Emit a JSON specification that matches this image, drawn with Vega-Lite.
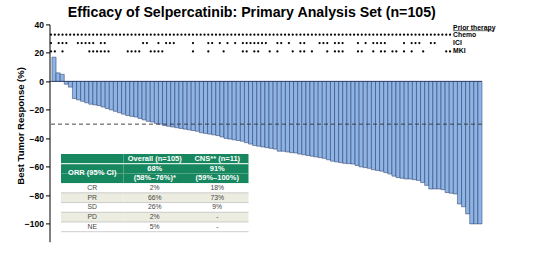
{
  "$schema": "https://vega.github.io/schema/vega-lite/v6.json",
  "width": 432.5,
  "height": 217.3,
  "autosize": {"type": "none"},
  "padding": {"left": 49.5, "top": 24.4, "right": 74, "bottom": 15.3},
  "background": "white",
  "config": {"font": "Liberation Sans", "view": {"stroke": null}},
  "title": {"text": "Efficacy of Selpercatinib: Primary Analysis Set (n=105)", "fontSize": 14.2, "fontWeight": "bold", "color": "#000", "anchor": "middle", "offset": 0, "dx": -14},
  "datasets": {
    "bars": [
      {"patient":1,"response":17},{"patient":2,"response":6},{"patient":3,"response":5},{"patient":4,"response":-2},{"patient":5,"response":-4},
      {"patient":6,"response":-12},{"patient":7,"response":-13},{"patient":8,"response":-14},{"patient":9,"response":-15},{"patient":10,"response":-16},
      {"patient":11,"response":-16.5},{"patient":12,"response":-17},{"patient":13,"response":-18},{"patient":14,"response":-19},{"patient":15,"response":-20},
      {"patient":16,"response":-21},{"patient":17,"response":-22},{"patient":18,"response":-23},{"patient":19,"response":-24},{"patient":20,"response":-24.5},
      {"patient":21,"response":-25},{"patient":22,"response":-26},{"patient":23,"response":-27},{"patient":24,"response":-28},{"patient":25,"response":-28.5},
      {"patient":26,"response":-29.5},{"patient":27,"response":-30},{"patient":28,"response":-31},{"patient":29,"response":-31.5},{"patient":30,"response":-32},
      {"patient":31,"response":-32.5},{"patient":32,"response":-33},{"patient":33,"response":-33.5},{"patient":34,"response":-34},{"patient":35,"response":-34.5},
      {"patient":36,"response":-35},{"patient":37,"response":-36},{"patient":38,"response":-36.5},{"patient":39,"response":-37},{"patient":40,"response":-37.5},
      {"patient":41,"response":-38},{"patient":42,"response":-39},{"patient":43,"response":-40},{"patient":44,"response":-40.5},{"patient":45,"response":-41},
      {"patient":46,"response":-41.5},{"patient":47,"response":-42},{"patient":48,"response":-43},{"patient":49,"response":-44},{"patient":50,"response":-45},
      {"patient":51,"response":-45.5},{"patient":52,"response":-46},{"patient":53,"response":-46.5},{"patient":54,"response":-47},{"patient":55,"response":-47.5},
      {"patient":56,"response":-49},{"patient":57,"response":-49},{"patient":58,"response":-49.5},{"patient":59,"response":-50},{"patient":60,"response":-50.2},
      {"patient":61,"response":-51},{"patient":62,"response":-51.5},{"patient":63,"response":-52},{"patient":64,"response":-52.5},{"patient":65,"response":-53},
      {"patient":66,"response":-53.5},{"patient":67,"response":-54},{"patient":68,"response":-55},{"patient":69,"response":-56},{"patient":70,"response":-56.5},
      {"patient":71,"response":-57},{"patient":72,"response":-57.5},{"patient":73,"response":-57.7},{"patient":74,"response":-58},{"patient":75,"response":-59},
      {"patient":76,"response":-60},{"patient":77,"response":-60.5},{"patient":78,"response":-61},{"patient":79,"response":-62},{"patient":80,"response":-62.5},
      {"patient":81,"response":-63},{"patient":82,"response":-64},{"patient":83,"response":-65},{"patient":84,"response":-66.5},{"patient":85,"response":-67.5},
      {"patient":86,"response":-68},{"patient":87,"response":-68.5},{"patient":88,"response":-68.5},{"patient":89,"response":-69},{"patient":90,"response":-69.5},
      {"patient":91,"response":-71},{"patient":92,"response":-73},{"patient":93,"response":-75.5},{"patient":94,"response":-75.5},{"patient":95,"response":-75.5},
      {"patient":96,"response":-76},{"patient":97,"response":-78},{"patient":98,"response":-78.5},{"patient":99,"response":-79},{"patient":100,"response":-86},
      {"patient":101,"response":-88},{"patient":102,"response":-93},{"patient":103,"response":-100},{"patient":104,"response":-100},{"patient":105,"response":-100}
    ],
    "prior": [
      {"patient":1,"therapy":"Chemo"},{"patient":2,"therapy":"Chemo"},{"patient":3,"therapy":"Chemo"},{"patient":4,"therapy":"Chemo"},{"patient":5,"therapy":"Chemo"},
      {"patient":6,"therapy":"Chemo"},{"patient":7,"therapy":"Chemo"},{"patient":8,"therapy":"Chemo"},{"patient":9,"therapy":"Chemo"},{"patient":10,"therapy":"Chemo"},
      {"patient":11,"therapy":"Chemo"},{"patient":12,"therapy":"Chemo"},{"patient":13,"therapy":"Chemo"},{"patient":14,"therapy":"Chemo"},{"patient":15,"therapy":"Chemo"},
      {"patient":16,"therapy":"Chemo"},{"patient":17,"therapy":"Chemo"},{"patient":18,"therapy":"Chemo"},{"patient":19,"therapy":"Chemo"},{"patient":20,"therapy":"Chemo"},
      {"patient":21,"therapy":"Chemo"},{"patient":22,"therapy":"Chemo"},{"patient":23,"therapy":"Chemo"},{"patient":24,"therapy":"Chemo"},{"patient":25,"therapy":"Chemo"},
      {"patient":26,"therapy":"Chemo"},{"patient":27,"therapy":"Chemo"},{"patient":28,"therapy":"Chemo"},{"patient":29,"therapy":"Chemo"},{"patient":30,"therapy":"Chemo"},
      {"patient":31,"therapy":"Chemo"},{"patient":32,"therapy":"Chemo"},{"patient":33,"therapy":"Chemo"},{"patient":34,"therapy":"Chemo"},{"patient":35,"therapy":"Chemo"},
      {"patient":36,"therapy":"Chemo"},{"patient":37,"therapy":"Chemo"},{"patient":38,"therapy":"Chemo"},{"patient":39,"therapy":"Chemo"},{"patient":40,"therapy":"Chemo"},
      {"patient":41,"therapy":"Chemo"},{"patient":42,"therapy":"Chemo"},{"patient":43,"therapy":"Chemo"},{"patient":44,"therapy":"Chemo"},{"patient":45,"therapy":"Chemo"},
      {"patient":46,"therapy":"Chemo"},{"patient":47,"therapy":"Chemo"},{"patient":48,"therapy":"Chemo"},{"patient":49,"therapy":"Chemo"},{"patient":50,"therapy":"Chemo"},
      {"patient":51,"therapy":"Chemo"},{"patient":52,"therapy":"Chemo"},{"patient":53,"therapy":"Chemo"},{"patient":54,"therapy":"Chemo"},{"patient":55,"therapy":"Chemo"},
      {"patient":56,"therapy":"Chemo"},{"patient":57,"therapy":"Chemo"},{"patient":58,"therapy":"Chemo"},{"patient":59,"therapy":"Chemo"},{"patient":60,"therapy":"Chemo"},
      {"patient":61,"therapy":"Chemo"},{"patient":62,"therapy":"Chemo"},{"patient":63,"therapy":"Chemo"},{"patient":64,"therapy":"Chemo"},{"patient":65,"therapy":"Chemo"},
      {"patient":66,"therapy":"Chemo"},{"patient":67,"therapy":"Chemo"},{"patient":68,"therapy":"Chemo"},{"patient":69,"therapy":"Chemo"},{"patient":70,"therapy":"Chemo"},
      {"patient":71,"therapy":"Chemo"},{"patient":72,"therapy":"Chemo"},{"patient":73,"therapy":"Chemo"},{"patient":74,"therapy":"Chemo"},{"patient":75,"therapy":"Chemo"},
      {"patient":76,"therapy":"Chemo"},{"patient":77,"therapy":"Chemo"},{"patient":78,"therapy":"Chemo"},{"patient":79,"therapy":"Chemo"},{"patient":80,"therapy":"Chemo"},
      {"patient":81,"therapy":"Chemo"},{"patient":82,"therapy":"Chemo"},{"patient":83,"therapy":"Chemo"},{"patient":84,"therapy":"Chemo"},{"patient":85,"therapy":"Chemo"},
      {"patient":86,"therapy":"Chemo"},{"patient":87,"therapy":"Chemo"},{"patient":88,"therapy":"Chemo"},{"patient":89,"therapy":"Chemo"},{"patient":90,"therapy":"Chemo"},
      {"patient":91,"therapy":"Chemo"},{"patient":92,"therapy":"Chemo"},{"patient":93,"therapy":"Chemo"},{"patient":94,"therapy":"Chemo"},{"patient":95,"therapy":"Chemo"},
      {"patient":96,"therapy":"Chemo"},{"patient":97,"therapy":"Chemo"},{"patient":98,"therapy":"Chemo"},{"patient":99,"therapy":"Chemo"},{"patient":100,"therapy":"Chemo"},
      {"patient":101,"therapy":"Chemo"},{"patient":102,"therapy":"Chemo"},{"patient":103,"therapy":"Chemo"},{"patient":104,"therapy":"Chemo"},{"patient":105,"therapy":"Chemo"},
      {"patient":1,"therapy":"ICI"},{"patient":3,"therapy":"ICI"},{"patient":4,"therapy":"ICI"},{"patient":5,"therapy":"ICI"},{"patient":8,"therapy":"ICI"},
      {"patient":9,"therapy":"ICI"},{"patient":10,"therapy":"ICI"},{"patient":11,"therapy":"ICI"},{"patient":12,"therapy":"ICI"},{"patient":14,"therapy":"ICI"},
      {"patient":15,"therapy":"ICI"},{"patient":25,"therapy":"ICI"},{"patient":26,"therapy":"ICI"},{"patient":29,"therapy":"ICI"},{"patient":31,"therapy":"ICI"},
      {"patient":32,"therapy":"ICI"},{"patient":33,"therapy":"ICI"},{"patient":38,"therapy":"ICI"},{"patient":42,"therapy":"ICI"},{"patient":43,"therapy":"ICI"},
      {"patient":45,"therapy":"ICI"},{"patient":47,"therapy":"ICI"},{"patient":49,"therapy":"ICI"},{"patient":51,"therapy":"ICI"},{"patient":52,"therapy":"ICI"},
      {"patient":53,"therapy":"ICI"},{"patient":54,"therapy":"ICI"},{"patient":55,"therapy":"ICI"},{"patient":56,"therapy":"ICI"},{"patient":57,"therapy":"ICI"},
      {"patient":60,"therapy":"ICI"},{"patient":61,"therapy":"ICI"},{"patient":63,"therapy":"ICI"},{"patient":66,"therapy":"ICI"},{"patient":67,"therapy":"ICI"},
      {"patient":71,"therapy":"ICI"},{"patient":72,"therapy":"ICI"},{"patient":73,"therapy":"ICI"},{"patient":75,"therapy":"ICI"},{"patient":76,"therapy":"ICI"},
      {"patient":77,"therapy":"ICI"},{"patient":81,"therapy":"ICI"},{"patient":83,"therapy":"ICI"},{"patient":85,"therapy":"ICI"},{"patient":86,"therapy":"ICI"},
      {"patient":87,"therapy":"ICI"},{"patient":88,"therapy":"ICI"},{"patient":93,"therapy":"ICI"},{"patient":95,"therapy":"ICI"},{"patient":96,"therapy":"ICI"},
      {"patient":97,"therapy":"ICI"},{"patient":100,"therapy":"ICI"},{"patient":101,"therapy":"ICI"},
      {"patient":1,"therapy":"MKI"},{"patient":2,"therapy":"MKI"},{"patient":4,"therapy":"MKI"},{"patient":11,"therapy":"MKI"},{"patient":12,"therapy":"MKI"},
      {"patient":13,"therapy":"MKI"},{"patient":14,"therapy":"MKI"},{"patient":15,"therapy":"MKI"},{"patient":16,"therapy":"MKI"},{"patient":21,"therapy":"MKI"},
      {"patient":22,"therapy":"MKI"},{"patient":23,"therapy":"MKI"},{"patient":24,"therapy":"MKI"},{"patient":27,"therapy":"MKI"},{"patient":28,"therapy":"MKI"},
      {"patient":29,"therapy":"MKI"},{"patient":30,"therapy":"MKI"},{"patient":38,"therapy":"MKI"},{"patient":42,"therapy":"MKI"},{"patient":46,"therapy":"MKI"},
      {"patient":51,"therapy":"MKI"},{"patient":52,"therapy":"MKI"},{"patient":54,"therapy":"MKI"},{"patient":55,"therapy":"MKI"},{"patient":58,"therapy":"MKI"},
      {"patient":60,"therapy":"MKI"},{"patient":64,"therapy":"MKI"},{"patient":66,"therapy":"MKI"},{"patient":67,"therapy":"MKI"},{"patient":69,"therapy":"MKI"},
      {"patient":73,"therapy":"MKI"},{"patient":75,"therapy":"MKI"},{"patient":76,"therapy":"MKI"},{"patient":77,"therapy":"MKI"},{"patient":81,"therapy":"MKI"},
      {"patient":82,"therapy":"MKI"},{"patient":85,"therapy":"MKI"},{"patient":87,"therapy":"MKI"},{"patient":88,"therapy":"MKI"},{"patient":90,"therapy":"MKI"},
      {"patient":91,"therapy":"MKI"},{"patient":93,"therapy":"MKI"},{"patient":95,"therapy":"MKI"},{"patient":98,"therapy":"MKI"},{"patient":104,"therapy":"MKI"},
      {"patient":105,"therapy":"MKI"}
    ],
    "legend": [
      {"label": "Prior therapy"}, {"label": "Chemo"}, {"label": "ICI"}, {"label": "MKI"}
    ],
    "table": [
      {"row":"h","col":"label","text":""},{"row":"h","col":"overall","text":"Overall (n=105)"},{"row":"h","col":"cns","text":"CNS** (n=11)"},
      {"row":"orr1","col":"label","text":"ORR (95% CI)"},{"row":"orr1","col":"overall","text":"68%"},{"row":"orr1","col":"cns","text":"91%"},
      {"row":"orr2","col":"label","text":""},{"row":"orr2","col":"overall","text":"(58%–76%)*"},{"row":"orr2","col":"cns","text":"(59%–100%)"},
      {"row":"CR","col":"label","text":"CR"},{"row":"CR","col":"overall","text":"2%"},{"row":"CR","col":"cns","text":"18%"},
      {"row":"PR","col":"label","text":"PR"},{"row":"PR","col":"overall","text":"66%"},{"row":"PR","col":"cns","text":"73%"},
      {"row":"SD","col":"label","text":"SD"},{"row":"SD","col":"overall","text":"26%"},{"row":"SD","col":"cns","text":"9%"},
      {"row":"PD","col":"label","text":"PD"},{"row":"PD","col":"overall","text":"2%"},{"row":"PD","col":"cns","text":"-"},
      {"row":"NE","col":"label","text":"NE"},{"row":"NE","col":"overall","text":"5%"},{"row":"NE","col":"cns","text":"-"}
    ]
  },
  "layer": [
    {
      "data": {"name": "bars"},
      "mark": {"type": "bar", "fill": "#8EB4E6", "stroke": "#22355E", "strokeWidth": 0.5},
      "encoding": {
        "x": {"field": "patient", "type": "ordinal", "axis": null, "scale": {"paddingInner": 0, "paddingOuter": 0.3, "align": 1}},
        "y": {
          "field": "response", "type": "quantitative",
          "scale": {"domain": [-112.5, 40], "nice": false, "zero": true},
          "title": "Best Tumor Response (%)",
          "axis": {"values": [40, 20, 0, -20, -40, -60, -80, -100], "labelOverlap": false, "grid": false, "domainColor": "#000", "domainWidth": 1, "tickColor": "#000", "tickSize": 4, "labelFontSize": 8.5, "labelFontWeight": "bold", "labelColor": "#000", "labelPadding": 2, "labelFlush": false, "titleFontSize": 9.5, "titleFontWeight": "bold", "titleColor": "#000", "titlePadding": -1, "titleY": 101}
        }
      }
    },
    {
      "data": {"values": [{}]},
      "mark": {"type": "rule", "color": "#333", "strokeWidth": 0.9, "strokeDash": [4, 3]},
      "encoding": {"y": {"datum": -30, "type": "quantitative", "axis": null, "scale": {"domain": [-112.5, 40], "nice": false}}}
    },
    {
      "data": {"values": [{}]},
      "mark": {"type": "rule", "color": "#22355E", "strokeWidth": 0.8},
      "encoding": {"y": {"datum": 0, "type": "quantitative", "axis": null, "scale": {"domain": [-112.5, 40], "nice": false}}}
    },
    {
      "layer": [
        {
          "data": {"name": "prior"},
          "transform": [{"filter": "datum.therapy === 'Chemo'"}],
          "mark": {"type": "circle", "size": 5, "color": "#000", "opacity": 1},
          "encoding": {
            "x": {"field": "patient", "type": "quantitative", "scale": {"domain": [0.61, 113.33], "nice": false, "zero": false}, "axis": null},
            "y": {"datum": 32.8, "type": "quantitative", "axis": null, "scale": {"domain": [-112.5, 40], "nice": false}}
          }
        },
        {
          "data": {"name": "prior"},
          "transform": [{"filter": "datum.therapy === 'ICI'"}],
          "mark": {"type": "circle", "size": 5, "color": "#000", "opacity": 1},
          "encoding": {
            "x": {"field": "patient", "type": "quantitative", "axis": null},
            "y": {"datum": 26.9, "type": "quantitative", "axis": null}
          }
        },
        {
          "data": {"name": "prior"},
          "transform": [{"filter": "datum.therapy === 'MKI'"}],
          "mark": {"type": "circle", "size": 5, "color": "#000", "opacity": 1},
          "encoding": {
            "x": {"field": "patient", "type": "quantitative", "axis": null},
            "y": {"datum": 21, "type": "quantitative", "axis": null}
          }
        },
        {
          "data": {"name": "legend"},
          "transform": [{"filter": "datum.label === 'Prior therapy'"}],
          "mark": {"type": "text", "align": "left", "baseline": "middle", "fontSize": 6.8, "fontWeight": "bold", "color": "#000"},
          "encoding": {"x": {"datum": 105.8, "type": "quantitative", "axis": null}, "y": {"datum": 37.6, "type": "quantitative", "axis": null}, "text": {"field": "label"}}
        },
        {
          "data": {"values": [{}]},
          "mark": {"type": "rule", "color": "#000", "strokeWidth": 0.6},
          "encoding": {"x": {"datum": 105.8, "type": "quantitative", "axis": null}, "x2": {"datum": 116.4}, "y": {"datum": 35.6, "type": "quantitative", "axis": null}}
        },
        {
          "data": {"name": "legend"},
          "transform": [{"filter": "datum.label === 'Chemo'"}],
          "mark": {"type": "text", "align": "left", "baseline": "middle", "fontSize": 6.8, "fontWeight": "bold", "color": "#000"},
          "encoding": {"x": {"datum": 105.8, "type": "quantitative", "axis": null}, "y": {"datum": 32.8, "type": "quantitative", "axis": null}, "text": {"field": "label"}}
        },
        {
          "data": {"name": "legend"},
          "transform": [{"filter": "datum.label === 'ICI'"}],
          "mark": {"type": "text", "align": "left", "baseline": "middle", "fontSize": 6.8, "fontWeight": "bold", "color": "#000"},
          "encoding": {"x": {"datum": 105.8, "type": "quantitative", "axis": null}, "y": {"datum": 26.9, "type": "quantitative", "axis": null}, "text": {"field": "label"}}
        },
        {
          "data": {"name": "legend"},
          "transform": [{"filter": "datum.label === 'MKI'"}],
          "mark": {"type": "text", "align": "left", "baseline": "middle", "fontSize": 6.8, "fontWeight": "bold", "color": "#000"},
          "encoding": {"x": {"datum": 105.8, "type": "quantitative", "axis": null}, "y": {"datum": 21, "type": "quantitative", "axis": null}, "text": {"field": "label"}}
        }
      ]
    },
    {
      "data": {"name": "table"},
      "encoding": {
        "x": {"field": "col", "type": "nominal", "axis": null, "scale": {"type": "band", "domain": ["label", "overall", "cns", "_a", "_b", "_c"], "paddingInner": 0, "paddingOuter": 0.46, "align": 0.2}},
        "y": {"field": "row", "type": "nominal", "axis": null, "scale": {"type": "band", "domain": ["_1", "_2", "_3", "_4", "_5", "_6", "_7", "_8", "_9", "_10", "_11", "_12", "_13", "h", "orr1", "orr2", "CR", "PR", "SD", "PD", "NE", "_14"], "paddingInner": 0, "paddingOuter": 0.1865, "align": 0.921}}
      },
      "layer": [
        {
          "mark": {"type": "rect"},
          "encoding": {
            "color": {"field": "row", "type": "nominal", "legend": null, "scale": {"domain": ["h", "orr1", "orr2", "CR", "PR", "SD", "PD", "NE"], "range": ["#17875F", "#17875F", "#17875F", "#ffffff", "#ECEDE0", "#ffffff", "#ECEDE0", "#ffffff"]}}
          }
        },
        {
          "transform": [{"filter": "indexof(['CR','PR','SD','PD','NE'], datum.row) >= 0"}],
          "mark": {"type": "rule", "color": "#b8b8b8", "strokeWidth": 0.7},
          "encoding": {
            "x": {"field": "col", "type": "nominal", "bandPosition": 0},
            "x2": {"field": "col", "bandPosition": 1},
            "y": {"field": "row", "type": "nominal", "bandPosition": 1}
          }
        },
        {
          "transform": [{"filter": "datum.row === 'h'"}],
          "mark": {"type": "rule", "color": "#ffffff", "strokeWidth": 1},
          "encoding": {
            "x": {"field": "col", "type": "nominal", "bandPosition": 0},
            "x2": {"field": "col", "bandPosition": 1},
            "y": {"field": "row", "type": "nominal", "bandPosition": 1}
          }
        },
        {
          "transform": [{"filter": "indexof(['h','orr1','orr2'], datum.row) >= 0 && datum.col !== 'label'"}],
          "mark": {"type": "text", "color": "#ffffff", "fontSize": 7.5, "fontWeight": "bold", "baseline": "middle"},
          "encoding": {"text": {"field": "text"}}
        },
        {
          "transform": [{"filter": "datum.row === 'orr1' && datum.col === 'label'"}],
          "mark": {"type": "text", "color": "#ffffff", "fontSize": 7.5, "fontWeight": "bold", "baseline": "middle", "dy": 4.9},
          "encoding": {"text": {"field": "text"}}
        },
        {
          "transform": [{"filter": "indexof(['CR','PR','SD','PD','NE'], datum.row) >= 0"}],
          "mark": {"type": "text", "color": "#444444", "fontSize": 6.8, "baseline": "middle"},
          "encoding": {"text": {"field": "text"}}
        }
      ]
    }
  ],
  "resolve": {"scale": {"x": "independent", "y": "independent", "color": "independent"}, "axis": {"x": "independent", "y": "independent"}}
}
